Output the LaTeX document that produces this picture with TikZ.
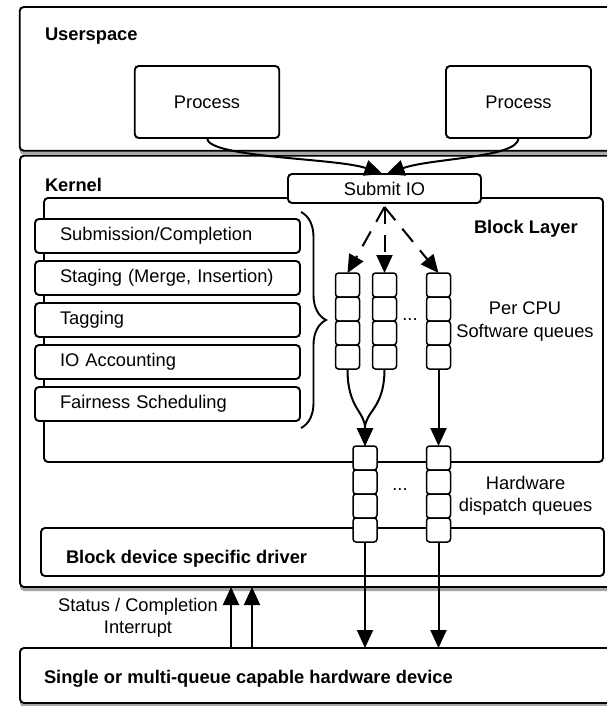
\documentclass[tikz,border=0pt]{standalone}
\usepackage{fontspec}
\setmainfont{Liberation Sans}
\usetikzlibrary{arrows.meta,decorations.pathreplacing,shadows}
\begin{document}
\begin{tikzpicture}[x=1pt,y=-1pt,
  every node/.style={font=\fontsize{18.3}{22.5}\selectfont, inner sep=0pt, outer sep=0pt},
  box/.style={draw, line width=1.9pt, rounded corners=4pt, fill=white},
  outerbox/.style={box, anchor=north west, drop shadow={shadow xshift=0pt, shadow yshift=-4pt, fill=black!35, opacity=1}},
  listbox/.style={box, anchor=north west, text width=215pt, inner xsep=25pt, align=left, minimum height=34pt},
  cell/.style={draw, line width=1.5pt, rounded corners=3pt, fill=white, minimum width=24pt, minimum height=24pt, anchor=north},
  arr/.style={line width=2pt, -{Triangle[length=18pt,width=16pt]}},
  dasharr/.style={arr, dash pattern=on 17pt off 11pt},
  lbl/.style={font=\bfseries\fontsize{18.3}{22.5}\selectfont, anchor=base west},
  txt/.style={align=center, font=\fontsize{18.3}{22.5}\selectfont},
]
\useasboundingbox (0,0) rectangle (606,706);

% outer containers
\node[outerbox, minimum width=592pt, minimum height=143.7pt] (user) at (19.7,7) {};
\node[outerbox, minimum width=592pt, minimum height=431.3pt] (kernel) at (20,155.7) {};
\node[box, anchor=north west, minimum width=559pt, minimum height=264pt] (block) at (44,198) {};
\node[box, anchor=north west, minimum width=563pt, minimum height=48pt] (driver) at (41,528) {};
\node[outerbox, minimum width=592pt, minimum height=55pt] (hw) at (20,648) {};

% labels of containers
\node[lbl] (luser) at (45,41) {Userspace};
\node[lbl] (lkernel) at (45,191) {Kernel};
\node[lbl] (lblock) at (474,233.5) {Block Layer};
\node[lbl] (ldriver) at (66,563.5) {Block device specific driver};
\node[lbl] (lhw) at (44,683.5) {Single or multi-queue capable hardware device};

% processes
\node[box, minimum width=144.5pt, minimum height=72pt] (p1) at (207,102) {Process};
\node[box, minimum width=145pt, minimum height=72pt] (p2) at (518.5,102) {Process};

% submit IO
\node[box, minimum width=193pt, minimum height=29pt] (submit) at (384.5,188.5) {Submit IO};

% list of block layer functions
\node[listbox] (l1) at (35,219) {Submission/Completion};
\node[listbox] (l2) at (35,261) {Staging (Merge, Insertion)};
\node[listbox] (l3) at (35,303) {Tagging};
\node[listbox] (l4) at (35,345) {IO Accounting};
\node[listbox] (l5) at (35,387) {Fairness Scheduling};

\draw[line width=1.9pt, decorate, decoration={brace, amplitude=25pt}] (301,212) -- (301,428);

% software queues
\foreach \c/\x in {1/347.5, 2/384.5, 3/438.5}{
  \foreach \r in {1,...,4}{
    \node[cell] (s\c-\r) at (\x,{273+24*(\r-1)}) {};
  }
}
\node (sdots) at (410,320) {...};
\node[txt] (swlbl) at (525,321.5) {Per CPU\\Software queues};

% hardware dispatch queues
\foreach \c/\x in {1/365, 2/438.5}{
  \foreach \r in {1,...,4}{
    \node[cell] (h\c-\r) at (\x,{446+24*(\r-1)}) {};
  }
}
\node (hdots) at (400,490) {...};
\node[txt] (hwlbl) at (525.6,496) {Hardware\\dispatch queues};

% connectors: processes -> submit IO
\draw[arr] (p1.south) .. controls +(0,20) and +(-45,-16) .. ([xshift=-2pt]submit.north);
\draw[arr] (p2.south) .. controls +(0,20) and +(45,-16) .. ([xshift=2pt]submit.north);

% submit IO -> software queues
\draw[dasharr] ([yshift=-4pt]submit.south) -- (s1-1.north);
\draw[dasharr] ([yshift=-4pt]submit.south) -- (s2-1.north);
\draw[dasharr] ([yshift=-4pt]submit.south) -- (s3-1.north);

% software queues -> hardware queues
\draw[arr] (s1-4.south) .. controls +(0,40) and +(0,-35) .. (h1-1.north);
\draw[arr] (s2-4.south) .. controls +(0,40) and +(0,-35) .. (h1-1.north);
\draw[arr] (s3-4.south) -- (h2-1.north);

% hardware queues -> device
\draw[arr] (h1-4.south) -- (h1-4.south |- hw.north);
\draw[arr] (h2-4.south) -- (h2-4.south |- hw.north);

% interrupts
\coordinate (i1) at ([xshift=211pt]hw.north west);
\coordinate (i2) at ([xshift=232pt]hw.north west);
\draw[arr] (i1) -- (i1 |- kernel.south);
\draw[arr] (i2) -- (i2 |- kernel.south);
\node[txt] (intlbl) at (138,618) {Status / Completion\\Interrupt};
\end{tikzpicture}
\end{document}
